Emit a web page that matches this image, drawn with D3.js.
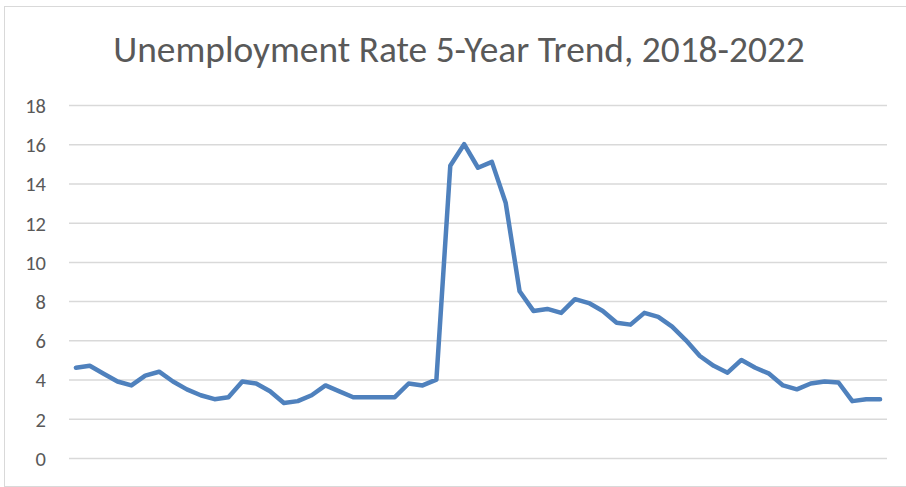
<!DOCTYPE html>
<html>
<head>
<meta charset="utf-8">
<script src="https://cdn.jsdelivr.net/npm/d3@7"></script>
<style>
  html, body { margin: 0; padding: 0; background: #ffffff; }
  svg { display: block; }
  text { font-family: Carlito, Lato, "Open Sans", sans-serif; fill: #595959; }
</style>
</head>
<body>
<div id="chart"></div>
<script>
// Monthly unemployment rate (%), January 2018 onward
const months = d3.range(59).map(i => {
  const d = new Date(2018, i, 1);
  return d3.timeFormat("%Y-%m")(d);
});
const rates = [
  4.6, 4.7, 4.3, 3.9, 3.7, 4.2, 4.4, 3.9, 3.5, 3.2, 3.0, 3.1,
  3.9, 3.8, 3.4, 2.8, 2.9, 3.2, 3.7, 3.4, 3.1, 3.1, 3.1, 3.1,
  3.8, 3.7, 4.0, 14.9, 16.0, 14.8, 15.1, 13.0, 8.5, 7.5, 7.6, 7.4,
  8.1, 7.9, 7.5, 6.9, 6.8, 7.4, 7.2, 6.7, 6.0, 5.2, 4.7, 4.35,
  5.0, 4.6, 4.3, 3.7, 3.5, 3.8, 3.9, 3.85, 2.9, 3.0, 3.0
];
const yTicks = [0, 2, 4, 6, 8, 10, 12, 14, 16, 18];
const titleText = "Unemployment Rate 5-Year Trend, 2018-2022";

const W = 906, H = 487;
const plot = { left: 69, right: 887, top: 105, bottom: 458 };

const svg = d3.select("#chart").append("svg")
  .attr("width", W).attr("height", H);

// chart frame
svg.append("rect")
  .attr("x", 4.5).attr("y", 6.5)
  .attr("width", W + 10).attr("height", 480)
  .attr("fill", "#ffffff")
  .attr("stroke", "#d9d9d9").attr("stroke-width", 1);

const x = d3.scalePoint()
  .domain(months)
  .range([plot.left, plot.right])
  .padding(0.5);

const y = d3.scaleLinear()
  .domain([0, 18])
  .range([plot.bottom, plot.top]);

// horizontal gridlines + value labels
const yAxis = d3.axisLeft(y)
  .tickValues(yTicks)
  .tickSize(-(plot.right - plot.left))
  .tickPadding(23)
  .tickFormat(d3.format("d"));

const ya = svg.append("g")
  .attr("transform", `translate(${plot.left},0)`)
  .call(yAxis);
ya.select(".domain").remove();
ya.selectAll(".tick line")
  .attr("stroke", "#d9d9d9").attr("stroke-width", 1.5);
ya.selectAll(".tick text")
  .attr("font-size", 20.5)
  .attr("dy", "0.36em")
  .attr("fill", "#595959")
  .style("font-family", "Carlito, Lato, 'Open Sans', sans-serif");

// rate line
const line = d3.line()
  .x((d, i) => x(months[i]))
  .y(d => y(d));

svg.append("path")
  .datum(rates)
  .attr("d", line)
  .attr("fill", "none")
  .attr("stroke", "#4f81bd")
  .attr("stroke-width", 4.5)
  .attr("stroke-linejoin", "round")
  .attr("stroke-linecap", "round");

// title, sized to span its slot
const title = svg.append("text")
  .attr("x", 459).attr("y", 62)
  .attr("text-anchor", "middle")
  .attr("font-size", 32)
  .style("font-weight", 300)
  .attr("fill", "#595959")
  .text(titleText);
const tw = title.node().getComputedTextLength();
title.attr("font-size", 32 * 692 / tw);
</script>
</body>
</html>
